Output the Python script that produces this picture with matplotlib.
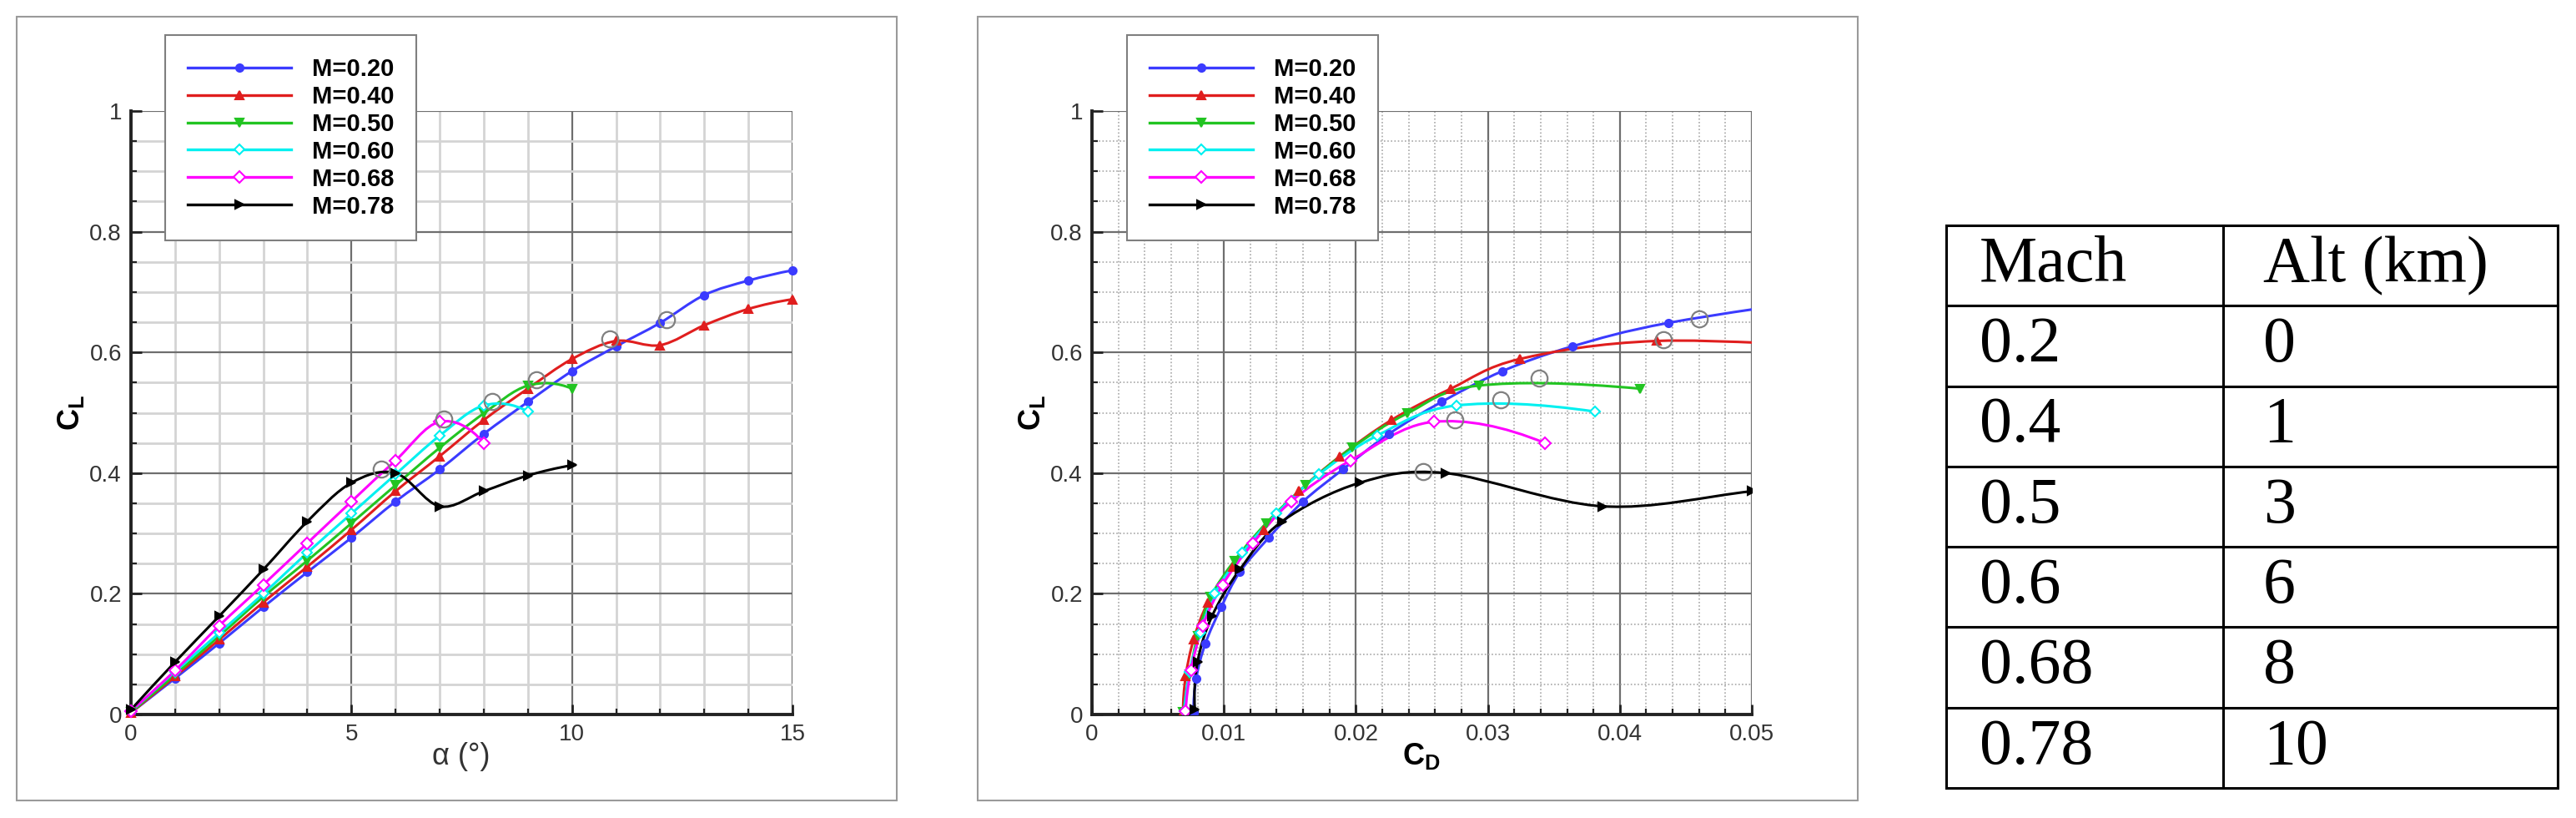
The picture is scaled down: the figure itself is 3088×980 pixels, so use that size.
import numpy as np
import matplotlib
matplotlib.use("Agg")
import matplotlib.pyplot as plt
from matplotlib.path import Path
from matplotlib.patches import PathPatch, Rectangle
from matplotlib.lines import Line2D
from matplotlib.ticker import MultipleLocator, FuncFormatter

plt.rcParams['font.family'] = ['Liberation Sans', 'DejaVu Sans']
plt.rcParams['mathtext.fontset'] = 'custom'
plt.rcParams['mathtext.rm'] = 'Liberation Sans'
plt.rcParams['mathtext.bf'] = 'Liberation Sans:bold'

# ---- data ----
mach_labels = ["M=0.20", "M=0.40", "M=0.50", "M=0.60", "M=0.68", "M=0.78"]
alpha = [0, 1, 2, 3, 4, 5, 6, 7, 8, 9, 10, 11, 12, 13, 14, 15]

cl_m020 = [0.003, 0.060, 0.118, 0.178, 0.236, 0.293, 0.353, 0.406, 0.465, 0.518, 0.569, 0.610, 0.649, 0.695, 0.719, 0.736]
cl_m040 = [0.003, 0.063, 0.124, 0.186, 0.245, 0.306, 0.370, 0.428, 0.488, 0.540, 0.589, 0.619, 0.612, 0.645, 0.672, 0.688]
cl_m050 = [0.004, 0.066, 0.130, 0.195, 0.255, 0.317, 0.380, 0.442, 0.499, 0.545, 0.540]
cl_m060 = [0.005, 0.071, 0.135, 0.200, 0.268, 0.333, 0.398, 0.462, 0.512, 0.502]
cl_m068 = [0.006, 0.073, 0.147, 0.215, 0.284, 0.353, 0.421, 0.485, 0.450]
cl_m078 = [0.008, 0.087, 0.163, 0.240, 0.320, 0.384, 0.400, 0.345, 0.370, 0.396, 0.413]

# drag for the same points (values past 0.05 are off the chart, rough guesses)
cd_m020 = [0.0077, 0.0079, 0.0086, 0.0098, 0.0112, 0.0134, 0.0160, 0.0190, 0.0225, 0.0265, 0.0311, 0.0364, 0.0437, 0.0575, 0.066, 0.075]
cd_m040 = [0.0069, 0.0071, 0.0077, 0.0088, 0.0107, 0.0130, 0.0157, 0.0188, 0.0227, 0.0272, 0.0324, 0.0428, 0.0595, 0.068, 0.076, 0.084]
cd_m050 = [0.0069, 0.0074, 0.0080, 0.0090, 0.0108, 0.0132, 0.0162, 0.0197, 0.0239, 0.0293, 0.0415]
cd_m060 = [0.0070, 0.0074, 0.0082, 0.0093, 0.0114, 0.0140, 0.0172, 0.0216, 0.0276, 0.0381]
cd_m068 = [0.0071, 0.0075, 0.0084, 0.0099, 0.0122, 0.0151, 0.0196, 0.0259, 0.0343]
cd_m078 = [0.0078, 0.0080, 0.0091, 0.0112, 0.0144, 0.0203, 0.0268, 0.0387, 0.0500, 0.060, 0.070]

# max-lift markers (gray open circles)
stall_alpha = [12.15, 10.86, 9.2, 8.19, 7.1, 5.67]
stall_cl_a = [0.654, 0.623, 0.554, 0.518, 0.489, 0.406]
stall_cd = [0.0460, 0.0433, 0.0339, 0.0310, 0.0275, 0.0251]
stall_cl_d = [0.655, 0.621, 0.558, 0.521, 0.488, 0.402]

table_header = ["Mach", "Alt (km)"]
table_mach = ["0.2", "0.4", "0.5", "0.6", "0.68", "0.78"]
table_alt = ["0", "1", "3", "6", "8", "10"]

cl_all = [cl_m020, cl_m040, cl_m050, cl_m060, cl_m068, cl_m078]
cd_all = [cd_m020, cd_m040, cd_m050, cd_m060, cd_m068, cd_m078]

colors = ["#3b3bff", "#e01e1e", "#22c422", "#00f0f0", "#ff00ff", "#000000"]
mk = [("o", True, 6.5), ("^", True, 7.5), ("v", True, 7.5), ("D", False, 6.5), ("D", False, 7.5), (">", True, 7.5)]


def smooth_path(x, y):
    # catmull-rom through the points, drawn as bezier segments
    p = np.column_stack([x, y]).astype(float)
    n = len(p)
    t = np.zeros_like(p)
    t[1:-1] = (p[2:] - p[:-2]) / 2
    t[0] = 2 * (p[1] - p[0]) - t[1]
    t[-1] = 2 * (p[-1] - p[-2]) - t[-2]
    verts = [p[0]]
    codes = [Path.MOVETO]
    for i in range(n - 1):
        verts += [p[i] + t[i] / 3, p[i + 1] - t[i + 1] / 3, p[i + 1]]
        codes += [Path.CURVE4] * 3
    return Path(verts, codes)


def style_axes(ax, xmaj, xmin, minor_style):
    ax.xaxis.set_major_locator(MultipleLocator(xmaj))
    ax.xaxis.set_minor_locator(MultipleLocator(xmin))
    ax.yaxis.set_major_locator(MultipleLocator(0.2))
    ax.yaxis.set_minor_locator(MultipleLocator(0.05))
    fmt = FuncFormatter(lambda v, p: "%g" % round(v, 4))
    ax.xaxis.set_major_formatter(fmt)
    ax.yaxis.set_major_formatter(fmt)
    ax.set_ylim(0, 1)
    ax.grid(True, which='major', color='#6e6e6e', lw=1.6, zorder=0)
    ax.grid(True, which='minor', **minor_style)
    ax.set_axisbelow(True)
    for s in ['top', 'right']:
        ax.spines[s].set_visible(False)
    for s in ['left', 'bottom']:
        ax.spines[s].set_linewidth(2.8)
        ax.spines[s].set_color('#222222')
    ax.tick_params(which='major', direction='in', length=9, width=2, color='#222222',
                   labelsize=20, labelcolor='#333333', pad=8)
    ax.tick_params(which='minor', direction='in', length=5, width=1.6, color='#222222')
    ax.set_ylabel(r'$\mathbf{C}_{\mathbf{L}}$', fontsize=26, va='center')
    ax.yaxis.set_label_coords(-0.091, 0.50)


W, H = 3088, 980
fig = plt.figure(figsize=(W / 100, H / 100), dpi=100)

# panel frames
for x0 in (20, 1172):
    fig.add_artist(Rectangle((x0 / W, 1 - 959 / H), 1055 / W, 939 / H, transform=fig.transFigure,
                             fill=False, ec='#9a9a9a', lw=1.5))

ax1 = fig.add_axes([157 / W, 1 - 856 / H, 793 / W, 723 / H])
ax2 = fig.add_axes([1309 / W, 1 - 856 / H, 791 / W, 723 / H])

style_axes(ax1, 5, 1, dict(color='#d4d4d4', lw=2.0))
style_axes(ax2, 0.01, 0.002, dict(color='#a8a8a8', lw=1.2, ls=(0, (1, 1.5))))
ax1.set_xlim(0, 15)
ax2.set_xlim(0, 0.05)

ax1.set_xlabel('α (°)', fontsize=26, color='#333333', va='center')
ax1.xaxis.set_label_coords(0.4994, -0.0705)
ax2.set_xlabel(r'$\mathbf{C}_{\mathbf{D}}$', fontsize=26, va='center')
ax2.xaxis.set_label_coords(0.4994, -0.069)

handles = []
for i in range(6):
    m, filled, ms = mk[i]
    c = colors[i]
    face = c if filled else 'white'
    cl = cl_all[i]
    cd = cd_all[i]
    al = alpha[:len(cl)]
    ax1.add_patch(PathPatch(smooth_path(al, cl), fc='none', ec=c, lw=2.2, zorder=2 + i * 0.1))
    ax1.plot(al, cl, ls='none', marker=m, ms=ms, mfc=face, mec=c, mew=1.5, zorder=3 + i * 0.1, clip_on=False)
    ax2.add_patch(PathPatch(smooth_path(cd, cl), fc='none', ec=c, lw=2.2, zorder=2 + i * 0.1))
    ax2.plot(cd, cl, ls='none', marker=m, ms=ms, mfc=face, mec=c, mew=1.5, zorder=3 + i * 0.1)
    handles.append(Line2D([], [], color=c, lw=2.4, marker=m, ms=ms, mfc=face, mec=c, mew=1.5))

ax1.plot(stall_alpha, stall_cl_a, ls='none', marker='o', ms=14, mfc='none', mec='#808080', mew=1.6, zorder=5)
ax2.plot(stall_cd, stall_cl_d, ls='none', marker='o', ms=14, mfc='none', mec='#808080', mew=1.6, zorder=5)

for ax, lx in ((ax1, 198), (ax2, 1351)):
    leg = ax.legend(handles, mach_labels, loc='upper left', bbox_to_anchor=(lx / W, 1 - 42 / H),
                    bbox_transform=fig.transFigure, borderaxespad=0, fancybox=False, framealpha=1,
                    prop=dict(weight='bold', size=21), handlelength=4.25, handletextpad=0.86,
                    labelspacing=0.17, borderpad=0.92)
    leg.get_frame().set_edgecolor('#7f7f7f')
    leg.get_frame().set_linewidth(1.5)
    leg.set_zorder(10)

# altitude table
ax3 = fig.add_axes([2333 / W, 1 - 944 / H, 733 / W, 674 / H])
ax3.axis('off')
cells = [[a, b] for a, b in zip(table_mach, table_alt)]
tbl = ax3.table(cellText=cells, colLabels=table_header, bbox=[0, 0, 1, 1],
                colWidths=[332 / 733, 401 / 733], cellLoc='left', colLoc='left')
tbl.auto_set_font_size(False)
for (r, c), cell in tbl.get_celld().items():
    cell.set_linewidth(2.2)
    cell.set_edgecolor('black')
    cell.PAD = 0.12
    cell.get_text().set_fontfamily('Liberation Serif')
    cell.get_text().set_fontsize(56)

fig.savefig('out.png', dpi=100)
